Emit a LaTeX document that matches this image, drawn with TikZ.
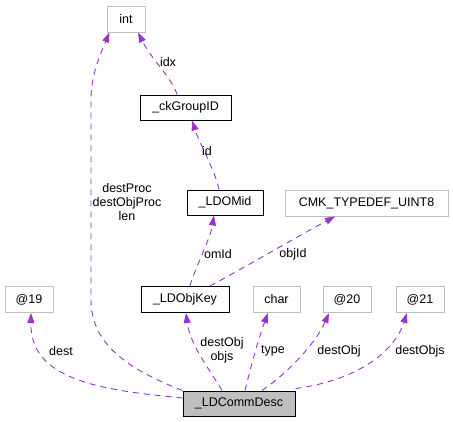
\documentclass[tikz,border=0pt]{standalone}
\usepackage{fontspec}
\setmainfont{Liberation Sans}
\usetikzlibrary{arrows.meta}
\definecolor{edgec}{HTML}{9A32CD}
\definecolor{grayb}{HTML}{BFBFBF}
\tikzset{
  box/.style={draw=black, line width=1pt, inner sep=0pt, font=\fontsize{12.5}{14}\selectfont},
  gbox/.style={box, draw=grayb},
  dep/.style={draw=edgec, line width=0.9pt, dash pattern=on 6pt off 5pt, -{Triangle[length=10pt,width=7pt,fill=edgec]}},
  lab/.style={font=\fontsize{12.5}{14}\selectfont, inner sep=0pt, align=center}
}
\begin{document}
\begin{tikzpicture}[x=1pt,y=-1pt]
\useasboundingbox (0,0) rectangle (453,421);
% nodes
\node[gbox, minimum width=38pt, minimum height=26pt] (int) at (126,19) {int};
\node[box, minimum width=91pt, minimum height=25pt] (ck) at (185.5,107.5) {\_ckGroupID};
\node[box, minimum width=76pt, minimum height=25pt] (omid) at (225,202.5) {\_LDOMid};
\node[gbox, minimum width=163pt, minimum height=26pt] (cmk) at (366.5,203) {CMK\_TYPEDEF\_UINT8};
\node[gbox, minimum width=48pt, minimum height=26pt] (a19) at (29,299.5) {@19};
\node[box, minimum width=88pt, minimum height=26pt] (objkey) at (185,299.5) {\_LDObjKey};
\node[gbox, minimum width=47pt, minimum height=26pt] (char) at (276.5,299.5) {char};
\node[gbox, minimum width=48pt, minimum height=26pt] (a20) at (347,299.5) {@20};
\node[gbox, minimum width=48pt, minimum height=26pt] (a21) at (420,299.5) {@21};
\node[box, fill=grayb, minimum width=112pt, minimum height=25pt] (cd) at (239,403.5) {\_LDCommDesc};
% edges
\draw[dep] ([xshift=-8.5pt]ck.north) .. controls (172,78) and (152,60) .. ([xshift=12pt]int.south);
\draw[dep] ([xshift=-6pt]omid.north) .. controls (215,170) and (200,145) .. ([xshift=6.5pt]ck.south);
\draw[dep] ([xshift=5pt]objkey.north) .. controls (196,265) and (210,240) .. ([xshift=-11pt]omid.south);
\draw[dep] ([xshift=25pt]objkey.north) .. controls (240,270) and (300,235) .. ([xshift=-31.5pt]cmk.south);
\draw[dep] ([yshift=5.5pt]cd.west) .. controls (100,390) and (30,380) .. ([xshift=2pt]a19.south);
\draw[dep] (cd.north west) .. controls (130,370) and (91,345) .. (91,300) -- (91,100) .. controls (91,75) and (100,55) .. ([xshift=3pt]int.south west);
\draw[dep] ([xshift=-17pt]cd.north) .. controls (210,370) and (190,345) .. ([xshift=1pt]objkey.south);
\draw[dep] ([xshift=6pt]cd.north) .. controls (250,370) and (258,340) .. ([xshift=-8.5pt]char.south);
\draw[dep] ([xshift=23pt]cd.north) .. controls (285,375) and (315,345) .. ([xshift=-18pt]a20.south);
\draw[dep] ([yshift=2pt]cd.north east) .. controls (360,380) and (395,350) .. ([xshift=-13pt]a21.south);
% labels
\node[lab] (lidx) at (168,62) {idx};
\node[lab] (lid) at (207,151) {id};
\node[lab] (lomid) at (218,254) {omId};
\node[lab] (lobjid) at (293,254) {objId};
\node[lab] (ldest) at (61,351) {dest};
\node[lab] (lint) at (127,202) {destProc\\destObjProc\\len};
\node[lab] (lok) at (222,350.5) {destObj\\objs};
\node[lab] (ltype) at (273,351) {type};
\node[lab] (l20) at (339,351) {destObj};
\node[lab] (l21) at (420,351) {destObjs};
\end{tikzpicture}
\end{document}
